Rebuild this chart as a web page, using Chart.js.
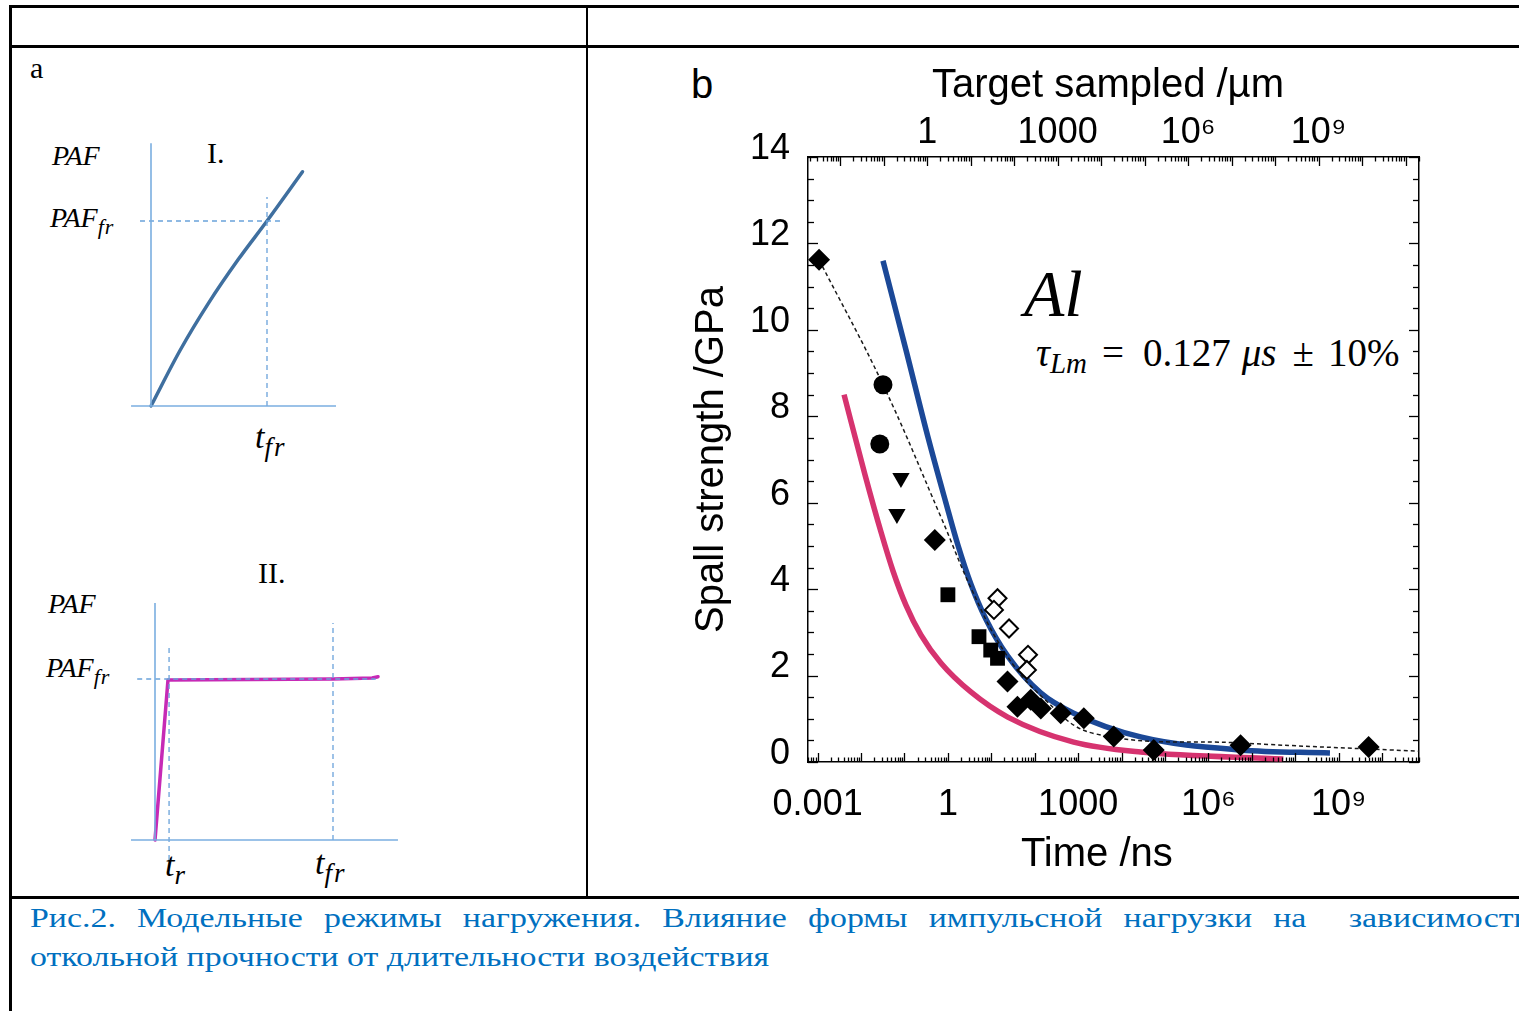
<!DOCTYPE html>
<html>
<head>
<meta charset="utf-8">
<script src="https://cdn.jsdelivr.net/npm/chart.js@4.4.1/dist/chart.umd.min.js"></script>
<style>
  html, body { margin:0; padding:0; background:#fff; overflow:hidden; }
  #page { position:relative; width:1519px; height:1011px; overflow:hidden; }
  .ln { position:absolute; background:#000; }
  .t { position:absolute; white-space:nowrap; line-height:1; color:#000; }
  .serif { font-family:"Liberation Serif","Times New Roman",serif; }
  .it { font-style:italic; }
  canvas { position:absolute; }
  #cap { position:absolute; left:30px; top:898px; width:1241px; font-family:"Liberation Serif","Times New Roman",serif;
         font-size:28px; line-height:39px; color:#0070c0; transform:scaleX(1.21); transform-origin:0 0; }
  #cap .l1 { text-align:justify; text-align-last:justify; white-space:nowrap; }
</style>
</head>
<body>
<div id="page">
  <!-- table borders -->
  <div class="ln" style="left:9px;top:5px;width:1520px;height:3px"></div>
  <div class="ln" style="left:9px;top:45px;width:1520px;height:2.5px"></div>
  <div class="ln" style="left:9px;top:5px;width:2.5px;height:1010px"></div>
  <div class="ln" style="left:586px;top:5px;width:1.5px;height:893px"></div>
  <div class="ln" style="left:9px;top:896px;width:1520px;height:3px"></div>

  <!-- panel a texts -->
  <div class="t serif" style="left:30px;top:53px;font-size:30px">a</div>
  <div class="t serif it" style="left:52px;top:142px;font-size:28px">PAF</div>
  <div class="t serif it" style="left:50px;top:204px;font-size:28px">PAF<span style="font-size:22px;position:relative;top:7px;letter-spacing:1px">fr</span></div>
  <div class="t serif" style="left:207px;top:138px;font-size:30px">I.</div>
  <div class="t serif it" style="left:255px;top:420px;font-size:34px">t<span style="font-size:27px;position:relative;top:8px;letter-spacing:2px">fr</span></div>

  <div class="t serif" style="left:258px;top:558px;font-size:30px">II.</div>
  <div class="t serif it" style="left:48px;top:590px;font-size:28px">PAF</div>
  <div class="t serif it" style="left:46px;top:654px;font-size:28px">PAF<span style="font-size:22px;position:relative;top:7px;letter-spacing:1px">fr</span></div>
  <div class="t serif it" style="left:165px;top:848px;font-size:34px">t<span style="font-size:27px;position:relative;top:8px">r</span></div>
  <div class="t serif it" style="left:315px;top:846px;font-size:34px">t<span style="font-size:27px;position:relative;top:8px;letter-spacing:2px">fr</span></div>

  <!-- panel b texts -->
  <div class="t" style="left:691px;top:64px;font-size:40px;font-family:'Liberation Sans',Arial,sans-serif">b</div>
  <div class="t serif it" style="left:1024px;top:261px;font-size:66px">Al</div>
  <div class="t serif" style="left:1036px;top:333px;font-size:39px"><span class="it">τ</span><span class="it" style="font-size:29px;position:relative;top:7px">Lm</span><span style="margin-left:15px">=</span><span style="margin-left:19px">0.127</span><span class="it" style="margin-left:11px">μs</span><span style="margin-left:16px">±</span><span style="margin-left:14px">10%</span></div>

  <canvas id="cI" width="240" height="290" style="left:120px;top:130px"></canvas>
  <canvas id="cII" width="300" height="280" style="left:120px;top:590px"></canvas>
  <canvas id="cB" width="900" height="840" style="left:600px;top:50px"></canvas>

  <div id="cap">
    <div class="l1">Рис.2. Модельные режимы нагружения. Влияние формы импульсной нагрузки на &nbsp;зависимости</div>
    <div>откольной прочности от длительности воздействия</div>
  </div>
</div>

<script>
// ---------- Panel a, scheme I (time in units of t_fr, PAF in units of PAF_fr) ----------
const I_curveT = [0, 0.25, 0.5, 0.75, 1, 1.306];
const I_curveP = [0, 0.30, 0.56, 0.79, 1.0, 1.266];
const I_axisHT = [-0.172, 1.595];
const I_axisHP = [0, 0];
const I_axisVT = [0, 0];
const I_axisVP = [0, 1.42];
const I_guideHT = [-0.095, 1.138];
const I_guideHP = [1, 1];
const I_guideVT = [1, 1];
const I_guideVP = [0, 1.13];

// ---------- Panel a, scheme II ----------
const II_curveT = [0, 0.073, 1.0, 1.22, 1.253];
const II_curveP = [0, 0.994, 1.0, 1.006, 1.014];
const II_axisHT = [-0.135, 1.365];
const II_axisHP = [0, 0];
const II_axisVT = [0, 0];
const II_axisVP = [0, 1.472];
const II_guideHT = [-0.10, 1.24];
const II_guideHP = [1, 1];
const II_guideTrT = [0.079, 0.079];
const II_guideTrP = [-0.124, 1.211];
const II_guideTfrT = [1, 1];
const II_guideTfrP = [0, 1.348];

// ---------- Panel b: spall strength of Al vs time ----------
const timeTickValues = [0.001, 1, 1000, 1e6, 1e9];
const timeTickLabels = ['0.001', '1', '1000', '10⁶', '10⁹'];
const depthTickValues = [1, 1000, 1e6, 1e9];
const depthTickLabels = ['1', '1000', '10⁶', '10⁹'];
const strengthTickValues = [0, 2, 4, 6, 8, 10, 12, 14];

const filledDiamondT = [0.00108, 0.50, 23.6, 40, 81, 138, 396, 1350, 6600, 55000, 5.5e6, 4.9e9];
const filledDiamondS = [11.62, 5.14, 1.86, 1.28, 1.44, 1.24, 1.13, 1.01, 0.59, 0.28, 0.39, 0.35];
const openDiamondT = [13.9, 11.5, 25.6, 70, 66];
const openDiamondS = [3.79, 3.52, 3.09, 2.48, 2.13];
const squareT = [1.0, 5.2, 9.7, 13.9];
const squareS = [3.87, 2.90, 2.59, 2.40];
const circleT = [0.032, 0.027];
const circleS = [8.73, 7.36];
const triangleT = [0.083, 0.067];
const triangleS = [6.57, 5.74];
const fitT = [0.00108, 0.032, 0.69, 3.5, 20, 150, 2300, 5.5e6, 7e10];
const fitS = [11.62, 8.73, 5.67, 4.00, 2.55, 1.50, 0.66, 0.44, 0.25];
const blueT = [0.0320, 0.108, 0.347, 0.90, 1.70, 3.38, 7.48, 23.9, 137, 789, 27400, 5.4e6, 6.3e8];
const blueS = [11.60, 9.54, 7.52, 6.00, 5.02, 4.12, 3.31, 2.45, 1.60, 1.13, 0.58, 0.28, 0.21];
const pinkT = [0.00406, 0.01236, 0.0288, 0.0544, 0.108, 0.239, 0.690, 3.38, 23.9, 789, 27400, 5.3e7];
const pinkS = [8.50, 6.64, 5.32, 4.42, 3.63, 2.94, 2.29, 1.62, 1.04, 0.46, 0.23, 0.07];

const timeMin = Math.pow(10, -3.2);
const timeMax = Math.pow(10, 10.85);
const depthPerTime = 2.88;

function pts(xs, ys) { return xs.map((x, i) => ({ x: x, y: ys[i] })); }

// ---------- scheme charts ----------
const axisBlue = '#7aaee0';
const guideBlue = '#6aa2da';
function seg(xs, ys, color, width, dash) {
  return { data: pts(xs, ys), showLine: true, borderColor: color, borderWidth: width,
           borderDash: dash || [], pointRadius: 0, fill: false, tension: 0, borderCapStyle: 'butt' };
}
function schemeOptions(xmin, xmax, ymin, ymax) {
  return {
    responsive: false, animation: false, events: [],
    layout: { padding: 0 },
    plugins: { legend: { display: false }, tooltip: { enabled: false } },
    scales: {
      x: { type: 'linear', min: xmin, max: xmax, display: false },
      y: { type: 'linear', min: ymin, max: ymax, display: false }
    }
  };
}
new Chart(document.getElementById('cI'), {
  type: 'scatter',
  data: { datasets: [
    seg(I_axisHT, I_axisHP, axisBlue, 1.6),
    seg(I_axisVT, I_axisVP, axisBlue, 1.6),
    seg(I_guideHT, I_guideHP, guideBlue, 1.3, [5, 4]),
    seg(I_guideVT, I_guideVP, guideBlue, 1.3, [5, 4]),
    Object.assign(seg(I_curveT, I_curveP, '#3f6f9f', 3.5), { cubicInterpolationMode: 'monotone', borderCapStyle: 'round' })
  ]},
  options: schemeOptions((120 - 151) / 116, (360 - 151) / 116, (406 - 420) / 185, (406 - 130) / 185)
});
new Chart(document.getElementById('cII'), {
  type: 'scatter',
  data: { datasets: [
    seg(II_axisHT, II_axisHP, axisBlue, 1.6),
    seg(II_axisVT, II_axisVP, axisBlue, 1.6),
    seg(II_guideHT, II_guideHP, guideBlue, 1.3, [5, 4]),
    seg(II_guideTrT, II_guideTrP, guideBlue, 1.3, [5, 4]),
    seg(II_guideTfrT, II_guideTfrP, guideBlue, 1.3, [5, 4]),
    Object.assign(seg(II_curveT, II_curveP, '#c62ab6', 3.5), { borderCapStyle: 'round', borderJoinStyle: 'round' })
  ]},
  options: schemeOptions((120 - 155) / 178, (420 - 155) / 178, (840 - 870) / 161, (840 - 590) / 161)
});

// ---------- panel b ----------
const inwardTicks = {
  id: 'inwardTicks',
  afterDraw(chart) {
    const { ctx, chartArea: a, scales } = chart;
    ctx.save();
    ctx.strokeStyle = '#000';
    ctx.lineWidth = 1.3;
    function logTicks(scale, edge, dir) {
      const lo = Math.floor(Math.log10(scale.min)), hi = Math.ceil(Math.log10(scale.max));
      for (let e = lo; e <= hi; e++) {
        for (let m = 1; m <= 9; m++) {
          const v = m * Math.pow(10, e);
          if (v < scale.min || v > scale.max) continue;
          const p = Math.round(scale.getPixelForValue(v)) + 0.5;
          const len = m === 1 ? 9 : 4.5;
          ctx.beginPath(); ctx.moveTo(p, edge); ctx.lineTo(p, edge + dir * len); ctx.stroke();
        }
      }
    }
    logTicks(scales.x, a.bottom, -1);
    logTicks(scales.x2, a.top, 1);
    function linTicks(scale, edge, dir) {
      for (let v = scale.min; v <= scale.max + 1e-9; v += 0.5) {
        const p = Math.round(scale.getPixelForValue(v)) + 0.5;
        const len = (Math.abs(v % 2) < 1e-9) ? 10 : 6;
        ctx.beginPath(); ctx.moveTo(edge, p); ctx.lineTo(edge + dir * len, p); ctx.stroke();
      }
    }
    linTicks(scales.y, a.left, 1);
    linTicks(scales.y2, a.right, -1);
    ctx.restore();
  }
};

const sansFont = "'Liberation Sans', Arial, sans-serif";
const black = '#000';
function marker(xs, ys, style, radius, fillCol, rot) {
  return { data: pts(xs, ys), showLine: false, pointStyle: style, pointRadius: radius,
           pointBackgroundColor: fillCol, pointBorderColor: black, pointBorderWidth: fillCol === '#fff' ? 2 : 0,
           pointRotation: rot || 0, order: 1, xAxisID: 'x', yAxisID: 'y' };
}
function curve(xs, ys, color, width, dash) {
  return { data: pts(xs, ys), showLine: true, borderColor: color, borderWidth: width, borderDash: dash || [],
           pointRadius: 0, cubicInterpolationMode: 'monotone', fill: false, order: 2, xAxisID: 'x', yAxisID: 'y',
           borderCapStyle: 'butt' };
}

new Chart(document.getElementById('cB'), {
  type: 'scatter',
  data: { datasets: [
    Object.assign(curve(fitT, fitS, '#1a1a1a', 1.5, [4, 3]), { cubicInterpolationMode: 'default', tension: 0.4 }),
    curve(pinkT, pinkS, '#d6336f', 5.5),
    curve(blueT, blueS, '#1b4897', 5.5),
    marker(filledDiamondT, filledDiamondS, 'rectRot', 11, black),
    marker(openDiamondT, openDiamondS, 'rectRot', 9, '#fff'),
    marker(squareT, squareS, 'rect', 10.5, black),
    marker(circleT, circleS, 'circle', 9.5, black),
    marker(triangleT, triangleS, 'triangle', 10, black, 180)
  ]},
  plugins: [inwardTicks],
  options: {
    responsive: false, animation: false, events: [],
    layout: { padding: 0 },
    plugins: { legend: { display: false }, tooltip: { enabled: false } },
    scales: {
      x: {
        type: 'logarithmic', position: 'bottom', min: timeMin, max: timeMax,
        afterBuildTicks: s => { s.ticks = timeTickValues.map(v => ({ value: v })); },
        afterFit: s => { s.height = 128; },
        grid: { display: true, drawOnChartArea: false, drawTicks: false },
        border: { display: true, color: black, width: 1.5 },
        ticks: { autoSkip: false, maxRotation: 0, padding: 21, color: black,
                 font: { family: sansFont, size: 36 },
                 callback: (v, i) => timeTickLabels[i] },
        title: { display: true, text: 'Time /ns   ', color: black, font: { family: sansFont, size: 40 },
                 padding: { top: 0, bottom: 11 } }
      },
      x2: {
        type: 'logarithmic', position: 'top', min: timeMin * depthPerTime, max: timeMax * depthPerTime,
        afterBuildTicks: s => { s.ticks = depthTickValues.map(v => ({ value: v })); },
        afterFit: s => { s.height = 107; },
        grid: { display: true, drawOnChartArea: false, drawTicks: false },
        border: { display: true, color: black, width: 1.5 },
        ticks: { autoSkip: false, maxRotation: 0, padding: 2, color: black,
                 font: { family: sansFont, size: 36 },
                 callback: (v, i) => depthTickLabels[i] },
        title: { display: true, text: 'Target sampled /µm ', color: black, font: { family: sansFont, size: 40 },
                 padding: { top: 12, bottom: 0 } }
      },
      y: {
        type: 'linear', position: 'left', min: 0, max: 14,
        afterBuildTicks: s => { s.ticks = strengthTickValues.map(v => ({ value: v })); },
        afterFit: s => { s.width = 208; },
        grid: { display: true, drawOnChartArea: false, drawTicks: false },
        border: { display: true, color: black, width: 1.5 },
        ticks: { padding: 18, color: black, labelOffset: -8, font: { family: sansFont, size: 36 } },
        title: { display: true, text: 'Spall strength /GPa', color: black, font: { family: sansFont, size: 40 },
                 padding: { top: 88, bottom: 0 } }
      },
      y2: {
        type: 'linear', position: 'right', min: 0, max: 14,
        afterFit: s => { s.width = 81; },
        grid: { display: true, drawOnChartArea: false, drawTicks: false },
        border: { display: true, color: black, width: 1.5 },
        ticks: { display: false }
      }
    }
  }
});
</script>
</body>
</html>
